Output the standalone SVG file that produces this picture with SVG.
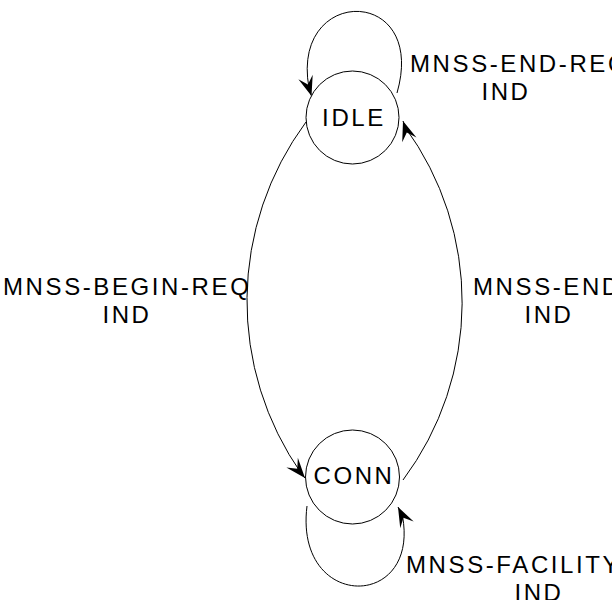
<svg xmlns="http://www.w3.org/2000/svg" width="612" height="600" viewBox="0 0 612 600">
<style>
.state{fill:#fff;stroke:#000;stroke-width:1}
.edge{fill:none;stroke:#000;stroke-width:1;marker-end:url(#arr)}
text{font-family:"Liberation Sans",Arial,sans-serif;font-size:24px;letter-spacing:2.6px;fill:#000}
.c{text-anchor:middle}
</style>
<defs>
<marker id="arr" markerUnits="userSpaceOnUse" markerWidth="24" markerHeight="20" refX="0" refY="0" viewBox="-22 -10 24 20" orient="auto" overflow="visible">
<path d="M0,0 L-20,-7.5 L-12,0 L-20,7.5 Z" fill="#000"/>
</marker>
</defs>
<rect width="612" height="600" fill="#fff"/>
<g id="connectors">
<path class="edge" d="M 397 93 C 428 -15, 290 -15, 309 88 L 311.5 96"/>
<path class="edge" d="M 306 122 A 301 301 0 0 0 301.8 474.2 L 305 478"/>
<path class="edge" d="M 403 480 A 297 297 0 0 0 405 127 L 403 121"/>
<path class="edge" d="M 307 506 C 294 611, 420 611, 402.5 516 L 398 507"/>
</g>
<g id="IDLE">
<circle class="state" cx="352.5" cy="117.5" r="46.5"/>
<text class="c" x="354" y="126">IDLE</text>
</g>
<g id="CONN">
<circle class="state" cx="352.5" cy="477" r="47"/>
<text class="c" x="354" y="484">CONN</text>
</g>
<g id="labels">
<text x="410" y="72">MNSS-END-REQ</text>
<text class="c" x="506" y="100">IND</text>
<text x="3" y="295">MNSS-BEGIN-REQ</text>
<text class="c" x="127" y="323">IND</text>
<text x="473" y="295">MNSS-END</text>
<text class="c" x="549" y="323">IND</text>
<text x="406" y="573">MNSS-FACILITY</text>
<text class="c" x="539" y="601">IND</text>
</g>
</svg>
